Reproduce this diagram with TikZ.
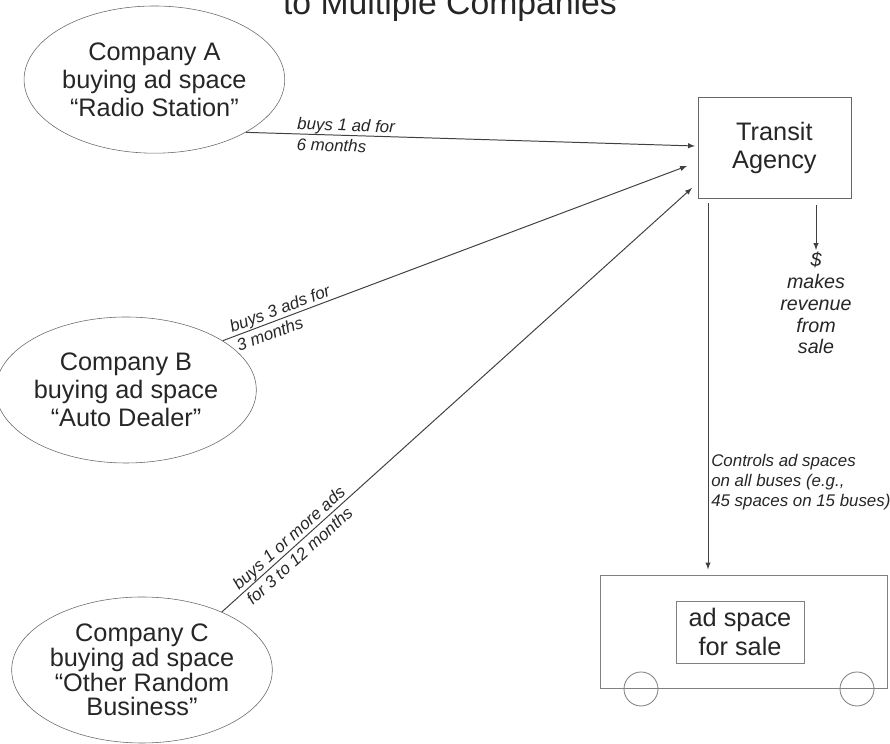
\documentclass[tikz,border=0pt]{standalone}
\usepackage{fontspec}
\setmainfont{Liberation Sans}
\usetikzlibrary{shapes.geometric}

\begin{document}
\begin{tikzpicture}[>=latex,
	company/.style={draw=black!60, ellipse, inner sep=0pt, text=black!85, align=center, font=\fontsize{18}{20}\selectfont},
	box/.style={draw=black!60, rectangle, inner sep=0pt, text=black!85, align=center, font=\fontsize{18}{20}\selectfont},
	buy/.style={sloped, anchor=west, align=left, inner sep=1pt, text=black!85, font=\fontsize{12}{14.6}\selectfont\itshape},
	link/.style={->, draw=black!75, line width=0.7pt}]
	% \draw[help lines] (0,0) grid (22,18);
	\useasboundingbox (0,0) rectangle (22.25,18.6);
	% title
	\node[anchor=base, text=black!85, font=\fontsize{24}{28}\selectfont] (title) at (11.25,18.225){to Multiple Companies};
	% companies
	\node[company, minimum width=5.93cm, minimum height=3.68cm] (compA) at (3.86,16.61){Company A\\buying ad space\\“Radio Station”};
	\node[company, minimum width=5.95cm, minimum height=3.65cm] (compB) at (3.15,8.85){Company B\\buying ad space\\“Auto Dealer”};
	\node[company, minimum width=5.9cm, minimum height=3.65cm, font=\fontsize{18}{17.5}\selectfont] (compC) at (3.55,1.85){Company C\\buying ad space\\“Other Random\\Business”};
	% agency
	\node[box, minimum width=3.83cm, minimum height=2.53cm] (agency) at (19.36,14.91){Transit\\Agency};
	\coordinate (inA) at (17.375,14.95);
	\coordinate (inB) at (17.175,14.45);
	\coordinate (inC) at (17.3,13.9);

	% buys
	\draw [link] (compA.-30) -- node[buy, pos=0.11]{buys 1 ad for\\6 months} (inA);
	\draw [link] (compB.27) -- node[buy, pos=0.02]{buys 3 ads for\\3 months} (inB);
	\draw [link] (compC.36) -- node[buy, pos=0.04]{buys 1 or more ads\\for 3 to 12 months} (inC);

	% revenue
	\coordinate (rev) at (20.4,13.475);
	\node[anchor=north, align=center, inner sep=1pt, text=black!85, font=\fontsize{14}{15.6}\selectfont\itshape] (revtext) at (20.4,12.35){\$\\makes\\revenue\\from\\sale};
	\draw [link] (rev) -- (revtext);

	% bus
	\node[draw=black!50, rectangle, minimum width=7.175cm, minimum height=2.825cm, line width=0.6pt] (bus) at (18.61,2.79){};
	\node[box, draw=black!50, minimum width=3.2cm, minimum height=1.55cm] (adspace) at (18.5,2.8){ad space\\for sale};
	\node[draw=black!50, circle, minimum size=0.85cm, inner sep=0pt, line width=0.6pt] (wheelL) at (16.025,1.375){};
	\node[draw=black!50, circle, minimum size=0.85cm, inner sep=0pt, line width=0.6pt] (wheelR) at (21.425,1.375){};

	% controls
	\coordinate (ctrl) at (17.7,13.525);
	\draw [link, shorten >=0.15cm] (ctrl) -- node[pos=0.75, right=1pt, align=left, inner sep=1pt, text=black!85, font=\fontsize{12}{14.2}\selectfont\itshape]{Controls ad spaces\\on all buses (e.g.,\\45 spaces on 15 buses)} (ctrl |- bus.north);
\end{tikzpicture}
\end{document}
